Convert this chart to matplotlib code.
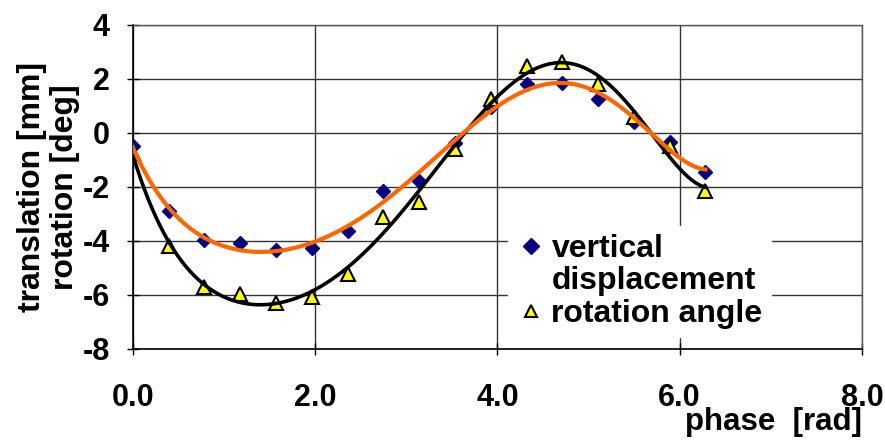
import numpy as np
import matplotlib
matplotlib.use('Agg')
import matplotlib.pyplot as plt
from matplotlib.lines import Line2D

# measured points, phase steps of pi/8
phase = np.arange(17) * np.pi / 8
vertical_disp = [-0.47, -2.88, -3.96, -4.09, -4.33, -4.25, -3.62, -2.14, -1.78,
                 -0.36, 0.95, 1.81, 1.84, 1.25, 0.42, -0.32, -1.46]
rotation_angle = [-0.73, -4.19, -5.69, -5.96, -6.28, -6.09, -5.22, -3.12, -2.54,
                  -0.60, 1.25, 2.48, 2.64, 1.81, 0.60, -0.48, -2.15]

x_ticks = [0, 2, 4, 6, 8]
y_ticks = [-8, -6, -4, -2, 0, 2, 4]

plt.rcParams['font.family'] = ['Liberation Sans', 'DejaVu Sans']
plt.rcParams['font.weight'] = 'bold'
plt.rcParams['axes.unicode_minus'] = False

fig = plt.figure(figsize=(8.85, 4.44), dpi=100)
ax = fig.add_axes([0.150, 0.214, 0.824, 0.730])

ax.plot(phase, vertical_disp, linestyle='none', marker='D', markersize=7.5,
        color='#000080', zorder=3)
ax.plot(phase, rotation_angle, linestyle='none', marker='^', markersize=10,
        markerfacecolor='#FFFF00', markeredgecolor='black', markeredgewidth=1.5, zorder=3)

# polynomial trendlines
xs = np.linspace(phase[0], phase[-1], 300)
fit_rot = np.polyfit(phase, rotation_angle, 6)
fit_vert = np.polyfit(phase, vertical_disp, 6)
ax.plot(xs, np.polyval(fit_rot, xs), color='black', lw=2.6, zorder=4)
ax.plot(xs, np.polyval(fit_vert, xs), color='#FF6600', lw=3.0, zorder=5)

ax.set_xlim(0, 8)
ax.set_ylim(-8, 4)
ax.set_xticks(x_ticks)
ax.set_xticklabels([f"{v:.1f}" for v in x_ticks])
ax.set_yticks(y_ticks)
ax.grid(True, color='#333333', lw=1.0)
ax.set_axisbelow(True)
for s in ['top', 'right']:
    ax.spines[s].set_color('#555555')
    ax.spines[s].set_linewidth(1.0)
for s in ['left', 'bottom']:
    ax.spines[s].set_color('black')
    ax.spines[s].set_linewidth(1.2)

ax.tick_params(axis='both', direction='inout', length=9, width=1, labelsize=22)
ax.tick_params(axis='x', pad=20)
ax.tick_params(axis='y', pad=12)

ax.set_xlabel('phase  [rad]', fontsize=22.5, fontweight='bold', loc='right', labelpad=-4)
ax.set_ylabel('translation [mm]\nrotation [deg]', fontsize=23, fontweight='bold',
              labelpad=2, linespacing=1.1)

handles = [
    Line2D([], [], linestyle='none', marker='D', markersize=8, color='#000080'),
    Line2D([], [], linestyle='none', marker='none'),
    Line2D([], [], linestyle='none', marker='^', markersize=8,
           markerfacecolor='#FFFF00', markeredgecolor='black', markeredgewidth=1.5),
]
leg = ax.legend(handles, ['vertical', 'displacement', 'rotation angle'],
                loc='upper left', bbox_to_anchor=(0.515, 0.38),
                frameon=True, fancybox=False, framealpha=1, edgecolor='white',
                facecolor='white', borderaxespad=0, borderpad=0.25,
                handlelength=0.9, handletextpad=0.2, labelspacing=0.08,
                prop={'size': 23, 'weight': 'bold'})
leg.set_zorder(6)

fig.savefig('out.png', dpi=100)
